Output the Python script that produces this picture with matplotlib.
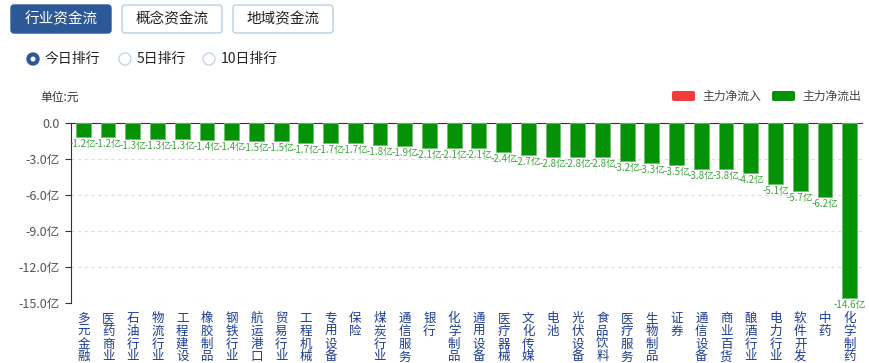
import matplotlib
matplotlib.use("Agg")
import matplotlib.pyplot as plt
from matplotlib.patches import FancyBboxPatch, Circle

plt.rcParams['font.family'] = ['Noto Sans CJK SC', 'DejaVu Sans']

categories = ["多元金融", "医药商业", "石油行业", "物流行业", "工程建设", "橡胶制品",
              "钢铁行业", "航运港口", "贸易行业", "工程机械", "专用设备", "保险",
              "煤炭行业", "通信服务", "银行", "化学制品", "通用设备", "医疗器械",
              "文化传媒", "电池", "光伏设备", "食品饮料", "医疗服务", "生物制品",
              "证券", "通信设备", "商业百货", "酿酒行业", "电力行业", "软件开发",
              "中药", "化学制药"]
values = [-1.2, -1.2, -1.3, -1.3, -1.3, -1.4, -1.4, -1.5, -1.5, -1.7, -1.7, -1.7,
          -1.8, -1.9, -2.1, -2.1, -2.1, -2.4, -2.7, -2.8, -2.8, -2.8, -3.2, -3.3,
          -3.5, -3.8, -3.8, -4.2, -5.1, -5.7, -6.2, -14.6]
yticks = [0, -3, -6, -9, -12, -15]
ytick_labels = ["0.0", "-3.0亿", "-6.0亿", "-9.0亿", "-12.0亿", "-15.0亿"]

W, H = 870, 363
fig = plt.figure(figsize=(W / 100, H / 100), dpi=100)

# overlay in pixel coords for the page controls
bg = fig.add_axes([0, 0, 1, 1])
bg.set_xlim(0, W)
bg.set_ylim(H, 0)
bg.axis("off")

buttons = ["行业资金流", "概念资金流", "地域资金流"]
for i, name in enumerate(buttons):
    x0 = 11 + i * 111
    active = i == 0
    bg.add_patch(FancyBboxPatch((x0, 5), 100, 28,
                                boxstyle="round,pad=0,rounding_size=3",
                                fc="#2d5898" if active else "white",
                                ec="#2d5898" if active else "#b9cfe6", lw=1))
    bg.text(x0 + 50, 19.5, name, ha="center", va="center", fontsize=10.5,
            color="white" if active else "#222222")

radios = [("今日排行", 33), ("5日排行", 125), ("10日排行", 209)]
for i, (name, cx) in enumerate(radios):
    if i == 0:
        bg.add_patch(Circle((cx, 59), 6, fc="#2d5898", ec="#2d5898"))
        bg.add_patch(Circle((cx, 59), 2.5, fc="white", ec="none"))
    else:
        bg.add_patch(Circle((cx, 59), 6, fc="white", ec="#c2d6ea", lw=1))
    bg.text(cx + 12, 59, name, ha="left", va="center", fontsize=10, color="#222222")

bg.text(40, 97, "单位:元", ha="left", va="center", fontsize=8.5, color="#333333")

bg.add_patch(FancyBboxPatch((672, 91), 23, 10, boxstyle="round,pad=0,rounding_size=2",
                            fc="#f23c3c", ec="none"))
bg.text(702, 96, "主力净流入", ha="left", va="center", fontsize=8.5, color="#444444")
bg.add_patch(FancyBboxPatch((772, 91), 23, 10, boxstyle="round,pad=0,rounding_size=2",
                            fc="#059206", ec="none"))
bg.text(802, 96, "主力净流出", ha="left", va="center", fontsize=8.5, color="#444444")

# main chart
left, right, top, bottom = 71, 862, 123, 303
ax = fig.add_axes([left / W, 1 - bottom / H, (right - left) / W, (bottom - top) / H])
x = range(len(categories))
ax.bar(x, values, width=0.6, color="#059206", edgecolor="#6cc06c", linewidth=0.6, zorder=3)
for xi, v in zip(x, values):
    ax.annotate(f"{v:.1f}亿", (xi, v), xytext=(0, -1.5), textcoords="offset points",
                ha="center", va="top", fontsize=7, color="#3aa63a", zorder=4,
                annotation_clip=False)

ax.set_xlim(-0.5, len(categories) - 0.5)
ax.set_ylim(-15, 0)
ax.set_yticks(yticks)
ax.set_yticklabels(ytick_labels, fontsize=9, color="#555555")
ax.yaxis.grid(True, linestyle=(0, (3, 3)), color="#dddddd", linewidth=0.8, zorder=0)
ax.tick_params(axis="y", length=4, color="#333333", pad=4)
ax.tick_params(axis="x", length=0, pad=6.5)
ax.set_xticks(list(x))
ax.set_xticklabels(["\n".join(c) for c in categories], fontsize=9, color="#1c3c96",
                   linespacing=0.98, va="top")
ax.xaxis.set_ticks_position("top")
ax.tick_params(axis="x", labeltop=False, labelbottom=True)
for s in ["right", "bottom"]:
    ax.spines[s].set_visible(False)
ax.spines["top"].set_color("#333333")
ax.spines["left"].set_color("#333333")
ax.set_facecolor("none")

fig.savefig("out.png", dpi=100)
